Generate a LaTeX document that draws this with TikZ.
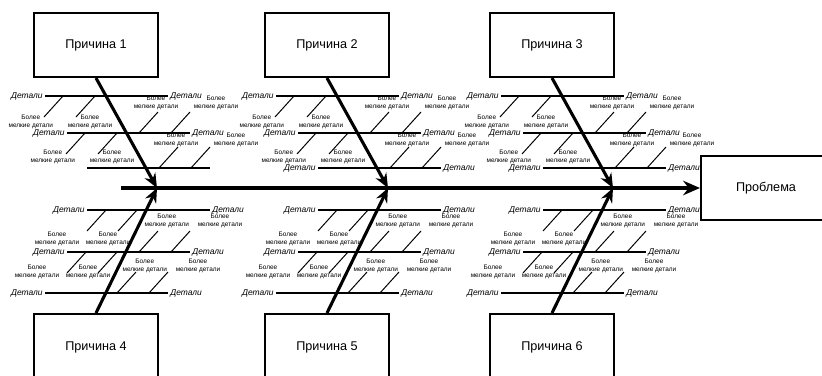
\documentclass[tikz,border=0pt]{standalone}
\usepackage{fontspec}
\setmainfont{Liberation Sans}
\usetikzlibrary{arrows.meta}
\tikzset{
  cause/.style={draw, line width=1.4pt, minimum width=3.1cm, minimum height=1.6cm, inner sep=2pt, font=\fontsize{9}{11}\selectfont},
  spine/.style={line width=2.8pt, -{Stealth[length=4.2mm,width=3.6mm]}},
  bone/.style={line width=2.2pt, -{Stealth[length=3.6mm,width=3mm]}},
  detail/.style={line width=1.2pt},
  finer/.style={line width=0.7pt},
  dlabel/.style={font=\fontsize{6}{7}\selectfont\itshape, inner sep=1.5pt},
  finelabel/.style={font=\fontsize{4.6}{5.6}\selectfont, align=center, inner sep=0pt},
}
\begin{document}
\begin{tikzpicture}[x=0.025cm, y=-0.025cm]
\useasboundingbox (0,0) rectangle (822,375);
% Head and spine
\node[cause, minimum width=3.25cm] (prob) at (766,188) {Проблема};
\coordinate (tail) at (121,188);
\draw[spine] (tail) -- (prob.west);
% Causes above and below the spine
\foreach \n/\X in {1/157,2/388,3/613}{
  \coordinate (j\n) at (\X,188);
  \node[cause] (c\n) at (\X-61,45) {Причина \n};
  \draw[bone] (c\n.south) -- (j\n);
}
\foreach \n/\m/\X in {4/1/157,5/2/388,6/3/613}{
  \node[cause, minimum height=1.65cm] (c\n) at (\X-61,347) {Причина \n};
  \draw[bone] (c\n.north) -- (j\m);
}
% Bones of the upper causes
\foreach \X in {157,388,613}{
\begin{scope}[shift={(\X,0)}]
\foreach \y/\l in {96/-112,133/-90,168/-70}
  \draw[detail] (\l,\y) -- ++(123,0);
% smaller details hanging down
\foreach \y/\l/\s [count=\i] in {96/-112/0.7mm,133/-90/1.2mm}{
  \draw[finer] (\l+18,\y) -- ++(-19,21) node[finelabel, anchor=north, xshift=-3.3mm, yshift=\s] (ua\X-\i) {Более\\мелкие детали};
  \draw[finer] (\l+50,\y) -- ++(-19,21) node[finelabel, anchor=north, xshift=3.5mm, yshift=\s] (ub\X-\i) {Более\\мелкие детали};
}
% smaller details standing up
\foreach \y/\l/\s [count=\i] in {133/-90/0.5mm,168/-70/0mm}{
  \draw[finer] (\l+72,\y) -- ++(19,-21) node[finelabel, anchor=south, xshift=-0.5mm, yshift=\s] (uc\X-\i) {Более\\мелкие детали};
  \draw[finer] (\l+104,\y) -- ++(19,-21) node[finelabel, anchor=south, xshift=6.5mm, yshift=\s] (ud\X-\i) {Более\\мелкие детали};
}
\end{scope}
}
% Bones of the lower causes
\foreach \X in {157,388,613}{
\begin{scope}[shift={(\X,0)}]
\foreach \y/\l in {210/-70,252/-90,293/-112}
  \draw[detail] (\l,\y) -- ++(123,0);
% smaller details hanging down
\foreach \y/\l/\s [count=\i] in {210/-70/-0.2mm,252/-90/2mm}{
  \draw[finer] (\l+19,\y) -- ++(-19,21) node[finelabel, anchor=north, xshift=-7.5mm, yshift=\s] (la\X-\i) {Более\\мелкие детали};
  \draw[finer] (\l+50,\y) -- ++(-19,21) node[finelabel, anchor=north, xshift=-2.5mm, yshift=\s] (lb\X-\i) {Более\\мелкие детали};
}
% smaller details standing up
\foreach \y/\l/\s [count=\i] in {252/-90/0.75mm,293/-112/-0.25mm}{
  \draw[finer] (\l+72,\y) -- ++(19,-21) node[finelabel, anchor=south, xshift=2.2mm, yshift=\s] (lc\X-\i) {Более\\мелкие детали};
  \draw[finer] (\l+104,\y) -- ++(19,-21) node[finelabel, anchor=south, xshift=7.5mm, yshift=\s] (ld\X-\i) {Более\\мелкие детали};
}
\end{scope}
}
% Labels at the ends of the details
\foreach \X/\y/\l in {157/96/-112,157/133/-90,388/96/-112,388/133/-90,388/168/-70,613/96/-112,613/133/-90,613/168/-70,
  157/210/-70,157/252/-90,157/293/-112,388/210/-70,388/252/-90,388/293/-112,613/210/-70,613/252/-90,613/293/-112}
  \path (\X+\l,\y) node[dlabel, left] (dl\X-\y) {Детали} ++(123,0) node[dlabel, right] (dr\X-\y) {Детали};
\end{tikzpicture}
\end{document}
